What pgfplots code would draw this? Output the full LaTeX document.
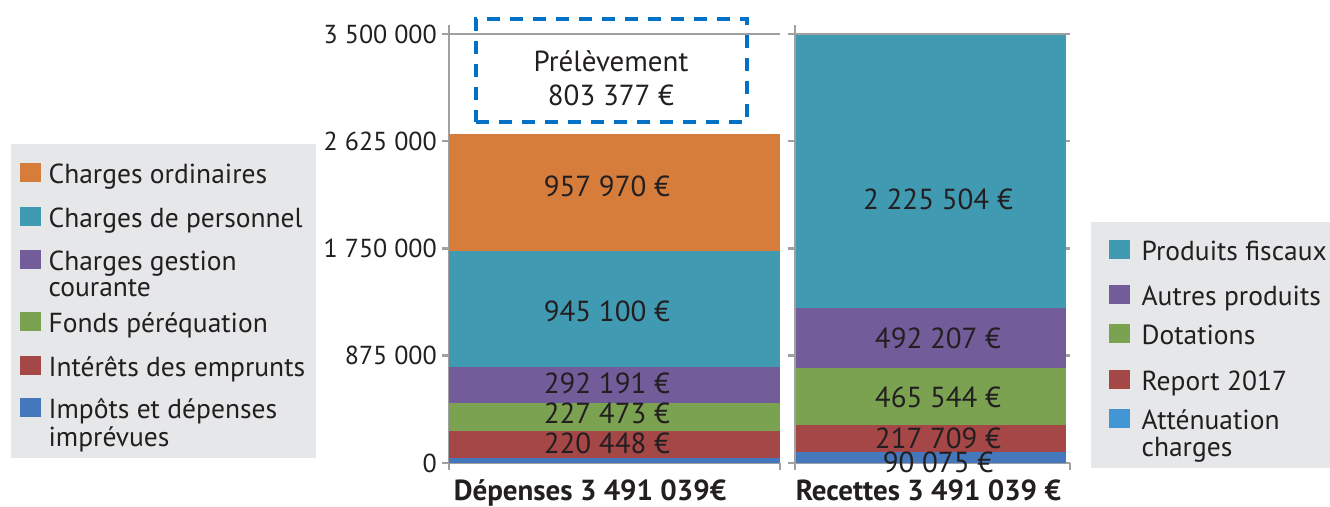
\documentclass[border=0pt]{standalone}
\usepackage{fontspec}
\setmainfont{PT Sans}
\usepackage{pgfplots}
\pgfplotsset{compat=1.18}
\definecolor{corange}{RGB}{214,125,59}
\definecolor{cteal}{RGB}{64,154,178}
\definecolor{cpurple}{RGB}{114,92,154}
\definecolor{cgreen}{RGB}{122,162,81}
\definecolor{cred}{RGB}{165,70,71}
\definecolor{cblue}{RGB}{68,119,187}
\definecolor{clblue}{RGB}{66,150,212}
\definecolor{cdash}{RGB}{0,114,198}
\definecolor{cgrid}{RGB}{160,160,163}
\definecolor{cdark}{RGB}{35,31,32}
\definecolor{clegbg}{RGB}{230,231,232}
\newcommand\ls[2]{\rule[-#2]{0pt}{\dimexpr#1+#2\relax}}
\tikzset{lab/.style={font=\fontsize{29}{34}\selectfont, text=cdark, align=center}}
\pgfplotsset{
  sq/.style={legend image code/.code={\fill[#1] (0pt,2pt) rectangle (20pt,20pt);}},
  base/.style={
    scale only axis, anchor=south west, height=429pt,
    xmin=-0.5, xmax=0.5, ymin=0, ymax=3500000, clip=false,
    ybar stacked, bar width=1,
    axis x line*=bottom, axis y line*=left,
    axis line style={draw=cgrid, line width=2.5pt},
    y axis line style={shorten >=-9pt},
    ytick={0,875000,1750000,2625000,3500000},
    scaled y ticks=false,
    ymajorgrids, major grid style={draw=cgrid, line width=2.5pt},
    tick style={draw=cgrid, line width=2.5pt},
    major tick length=7pt, tick align=outside,
    xtick={-0.5,0.5}, xticklabels={,},
    yticklabel style={font=\fontsize{26}{26}\selectfont, text=cdark, inner sep=0pt, xshift=-5pt},
    legend style={draw=none, fill=clegbg, font=\fontsize{27.5}{26}\selectfont, text=cdark,
      row sep=12pt, column sep=8pt, nodes={inner sep=0pt, text depth=}, cells={anchor=base west}},
  },
  over/.style={scale only axis, anchor=south west, height=429pt,
    xmin=-0.5, xmax=0.5, ymin=0, ymax=3500000, hide axis, clip=false},
}
\begin{document}
\begin{tikzpicture}[x=1pt,y=1pt]
\useasboundingbox (0,0) rectangle (1330,506);
% ---------------- Dépenses
\begin{axis}[base, at={(449pt,43pt)}, width=331pt,
  yticklabels={0,875 000,1 750 000,2 625 000,3 500 000},
  xlabel={Dépenses 3 491 039€},
  xlabel style={at={(axis description cs:0.426,0)}, anchor=base, yshift=-37pt,
    font=\fontsize{29}{29}\selectfont\bfseries, text=cdark, inner sep=0pt},
  legend style={at={(-1.32326,0.74359)}, anchor=north west, inner xsep=9pt, inner ysep=6.5pt},
]
\addplot[fill=cblue, draw=none, forget plot] coordinates {(0,44480)};
\addplot[fill=cred, draw=none, forget plot] coordinates {(0,220448)};
\addplot[fill=cgreen, draw=none, forget plot] coordinates {(0,227473)};
\addplot[fill=cpurple, draw=none, forget plot] coordinates {(0,292191)};
\addplot[fill=cteal, draw=none, forget plot] coordinates {(0,945100)};
\addplot[fill=corange, draw=none, forget plot] coordinates {(0,957970)};
\addlegendimage{sq=corange}
\addlegendentry{\parbox[t]{258pt}{\ls{32.5pt}{7pt}Charges ordinaires}}
\addlegendimage{sq=cteal}
\addlegendentry{\parbox[t]{258pt}{\ls{25pt}{7pt}Charges de personnel}}
\addlegendimage{sq=cpurple}
\addlegendentry{\parbox[t]{258pt}{\ls{24pt}{7pt}Charges gestion\\courante}}
\addlegendimage{sq=cgreen}
\addlegendentry{\parbox[t]{258pt}{\ls{24pt}{7pt}Fonds péréquation}}
\addlegendimage{sq=cred}
\addlegendentry{\parbox[t]{258pt}{\ls{25pt}{7pt}Intérêts des emprunts}}
\addlegendimage{sq=cblue}
\addlegendentry{\parbox[t]{258pt}{\ls{23pt}{7pt}Impôts et dépenses\\imprévues}}
\end{axis}
% labels and dashed frame, Dépenses
\begin{axis}[over, at={(449pt,43pt)}, width=331pt]
\addplot[draw=cdash, line width=3.5pt, dash pattern=on 13pt off 10pt, mark=none]
  coordinates {(-0.4184,2782051) (0.4003,2782051) (0.4003,3622378) (-0.4184,3622378) (-0.4184,2782051)};
\node[lab] at (axis cs:-0.023,2259907) {957 970 €};
\node[lab] at (axis cs:-0.023,1240093) {945 100 €};
\node[lab] at (axis cs:-0.023,652681) {292 191 €};
\node[lab] at (axis cs:-0.023,407925) {227 473 €};
\node[lab] at (axis cs:-0.023,163170) {220 448 €};
\node[lab] at (axis cs:-0.0106,3141026) {Prélèvement\\803 377 €};
\end{axis}
% ---------------- Recettes
\begin{axis}[base, at={(795pt,43pt)}, width=275pt,
  yticklabels={,,,,},
  xlabel={Recettes 3 491 039 €},
  xlabel style={at={(axis description cs:0.485,0)}, anchor=base, yshift=-37pt,
    font=\fontsize{29}{29}\selectfont\bfseries, text=cdark, inner sep=0pt},
  legend style={at={(1.07636,0.56177)}, anchor=north west, inner xsep=18pt, inner ysep=2pt, column sep=12pt},
]
\addplot[fill=cblue, draw=none, forget plot, bar width=0.982] coordinates {(-0.007,90075)};
\addplot[fill=cred, draw=none, forget plot, bar width=0.982] coordinates {(-0.007,217709)};
\addplot[fill=cgreen, draw=none, forget plot, bar width=0.982] coordinates {(-0.007,465544)};
\addplot[fill=cpurple, draw=none, forget plot, bar width=0.982] coordinates {(-0.007,492207)};
\addplot[fill=cteal, draw=none, forget plot, bar width=0.982] coordinates {(-0.007,2225504)};
\addlegendimage{sq=cteal}
\addlegendentry{\parbox[t]{200pt}{\ls{36pt}{7pt}Produits fiscaux}}
\addlegendimage{sq=cpurple}
\addlegendentry{\parbox[t]{200pt}{\ls{26pt}{7pt}Autres produits}}
\addlegendimage{sq=cgreen}
\addlegendentry{\parbox[t]{200pt}{\ls{18pt}{7pt}Dotations}}
\addlegendimage{sq=cred}
\addlegendentry{\parbox[t]{200pt}{\ls{27pt}{7pt}Report 2017}}
\addlegendimage{sq=clblue}
\addlegendentry{\parbox[t]{200pt}{\ls{20pt}{7pt}Atténuation\\\ls{0pt}{9pt}charges}}
\end{axis}
% labels, Recettes
\begin{axis}[over, at={(795pt,43pt)}, width=275pt]
\node[lab] at (axis cs:0.02,2153846) {2 225 504 €};
\node[lab] at (axis cs:0.02,1019814) {492 207 €};
\node[lab] at (axis cs:0.02,538462) {465 544 €};
\node[lab] at (axis cs:0.02,203963) {217 709 €};
\node[lab] at (axis cs:0.02,8159) {90 075 €};
\end{axis}
\end{tikzpicture}
\end{document}
